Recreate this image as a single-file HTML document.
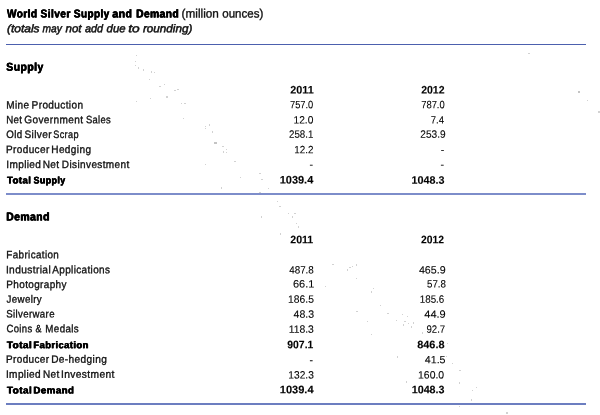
<!DOCTYPE html>
<html><head><meta charset="utf-8"><title>World Silver Supply and Demand</title>
<style>
html,body{margin:0;padding:0;background:#fff;}
body{width:600px;height:415px;position:relative;overflow:hidden;font-family:"Liberation Sans",sans-serif;color:#111;}
#pg{position:absolute;left:0;top:0;width:600px;height:415px;will-change:transform;opacity:0.999;}
.t{position:absolute;left:0;top:0;white-space:pre;line-height:20px;transform-origin:0 0;display:block;text-rendering:geometricPrecision;}
.tb{font-weight:bold;font-size:11.5px;-webkit-text-stroke:0.25px #000;text-shadow:0.35px 0 0 #000,-0.35px 0 0 #000;color:#000;letter-spacing:0.5px}
.tr{font-size:12px;-webkit-text-stroke:0.35px #111;color:#111}
.ti{font-style:italic;font-size:11.2px;-webkit-text-stroke:0.5px #111;color:#111}
.l{font-size:10.7px;-webkit-text-stroke:0.35px #111;color:#111;letter-spacing:0.4px;word-spacing:-1.5px}
.lb{font-weight:bold;font-size:9.8px;-webkit-text-stroke:0.15px #000;text-shadow:0.35px 0 0 #000,-0.35px 0 0 #000;color:#000;letter-spacing:0.45px;word-spacing:-1.2px}
.n{font-size:10.6px;-webkit-text-stroke:0.1px #000;color:#000}
.nb{font-weight:bold;font-size:10.9px;-webkit-text-stroke:0.12px #000;color:#000}
.rule{position:absolute;left:6.2px;width:579.7px;}
.sp{position:absolute;width:1.2px;height:1.2px;background:#d2d2d2;}
</style></head><body>
<div id="pg">
<div class="rule" style="top:43.7px;height:1.1px;background:#4c60ae"></div>
<div class="rule" style="top:193px;height:2px;background:#7d8dca"></div>
<div class="rule" style="top:403.1px;height:1.9px;background:#6c7ec0"></div>
<span class="t tb" style="transform:translate(6.99px,4.43px) scaleX(0.8753) rotate(0.05deg)">World</span>
<span class="t tb" style="transform:translate(40.54px,4.43px) scaleX(0.8809) rotate(0.05deg)">Silver</span>
<span class="t tb" style="transform:translate(73.88px,4.43px) scaleX(0.8640) rotate(0.05deg)">Supply</span>
<span class="t tb" style="transform:translate(112.37px,4.43px) scaleX(0.9115) rotate(0.05deg)">and</span>
<span class="t tb" style="transform:translate(136.17px,4.43px) scaleX(0.8877) rotate(0.05deg)">Demand</span>
<span class="t tr" style="transform:translate(181.61px,3.47px) scaleX(0.9807) rotate(0.05deg)">(million</span>
<span class="t tr" style="transform:translate(222.23px,3.47px) scaleX(0.9610) rotate(0.05deg)">ounces)</span>
<span class="t ti" style="transform:translate(6.90px,19.16px) scaleX(1.0737) rotate(0.05deg)">(totals</span>
<span class="t ti" style="transform:translate(42.51px,19.16px) scaleX(0.9108) rotate(0.05deg)">may</span>
<span class="t ti" style="transform:translate(65.51px,19.16px) scaleX(1.0307) rotate(0.05deg)">not</span>
<span class="t ti" style="transform:translate(84.93px,19.16px) scaleX(0.9637) rotate(0.05deg)">add</span>
<span class="t ti" style="transform:translate(106.61px,19.16px) scaleX(1.0137) rotate(0.05deg)">due</span>
<span class="t ti" style="transform:translate(128.17px,19.16px) scaleX(1.2296) rotate(0.05deg)">to</span>
<span class="t ti" style="transform:translate(142.89px,19.16px) scaleX(1.0452) rotate(0.05deg)">rounding)</span>
<span class="t tb" style="transform:translate(6.31px,57.73px) scaleX(0.9052) rotate(0.05deg)">Supply</span>
<span class="t tb" style="transform:translate(6.26px,207.43px) scaleX(0.9018) rotate(0.05deg)">Demand</span>
<span class="t l" style="transform:translate(6.24px,95.41px) scaleX(0.9329) rotate(0.05deg)">Mine</span>
<span class="t l" style="transform:translate(31.59px,95.41px) scaleX(0.9407) rotate(0.05deg)">Production</span>
<span class="t l" style="transform:translate(6.16px,110.31px) scaleX(0.9107) rotate(0.05deg)">Net</span>
<span class="t l" style="transform:translate(24.34px,110.31px) scaleX(0.9395) rotate(0.05deg)">Government</span>
<span class="t l" style="transform:translate(85.91px,110.31px) scaleX(0.8769) rotate(0.05deg)">Sales</span>
<span class="t l" style="transform:translate(6.23px,124.91px) scaleX(0.9123) rotate(0.05deg)">Old</span>
<span class="t l" style="transform:translate(24.43px,124.91px) scaleX(0.9446) rotate(0.05deg)">Silver</span>
<span class="t l" style="transform:translate(53.33px,124.91px) scaleX(0.8515) rotate(0.05deg)">Scrap</span>
<span class="t l" style="transform:translate(6.02px,139.91px) scaleX(0.9363) rotate(0.05deg)">Producer</span>
<span class="t l" style="transform:translate(51.27px,139.91px) scaleX(0.9414) rotate(0.05deg)">Hedging</span>
<span class="t l" style="transform:translate(6.26px,154.91px) scaleX(0.9408) rotate(0.05deg)">Implied</span>
<span class="t l" style="transform:translate(42.74px,154.91px) scaleX(0.9404) rotate(0.05deg)">Net</span>
<span class="t l" style="transform:translate(61.88px,154.91px) scaleX(0.9368) rotate(0.05deg)">Disinvestment</span>
<span class="t lb" style="transform:translate(7.00px,171.38px) scaleX(0.9763) rotate(0.05deg)">Total</span>
<span class="t lb" style="transform:translate(33.51px,171.38px) scaleX(0.9087) rotate(0.05deg)">Supply</span>
<span class="t l" style="transform:translate(6.34px,245.16px) scaleX(0.9224) rotate(0.05deg)">Fabrication</span>
<span class="t l" style="transform:translate(5.92px,260.16px) scaleX(0.9528) rotate(0.05deg)">Industrial</span>
<span class="t l" style="transform:translate(52.29px,260.16px) scaleX(0.9292) rotate(0.05deg)">Applications</span>
<span class="t l" style="transform:translate(6.35px,274.91px) scaleX(0.9302) rotate(0.05deg)">Photography</span>
<span class="t l" style="transform:translate(6.52px,289.66px) scaleX(0.9101) rotate(0.05deg)">Jewelry</span>
<span class="t l" style="transform:translate(6.30px,304.41px) scaleX(0.9018) rotate(0.05deg)">Silverware</span>
<span class="t l" style="transform:translate(6.54px,319.16px) scaleX(0.8860) rotate(0.05deg)">Coins</span>
<span class="t l" style="transform:translate(35.56px,319.16px) scaleX(0.8354) rotate(0.05deg)">&amp;</span>
<span class="t l" style="transform:translate(45.37px,319.16px) scaleX(0.9133) rotate(0.05deg)">Medals</span>
<span class="t lb" style="transform:translate(6.78px,336.23px) scaleX(1.0186) rotate(0.05deg)">Total</span>
<span class="t lb" style="transform:translate(33.46px,336.23px) scaleX(0.9574) rotate(0.05deg)">Fabrication</span>
<span class="t l" style="transform:translate(6.05px,349.81px) scaleX(0.9316) rotate(0.05deg)">Producer</span>
<span class="t l" style="transform:translate(51.18px,349.81px) scaleX(0.9457) rotate(0.05deg)">De-hedging</span>
<span class="t l" style="transform:translate(5.96px,364.81px) scaleX(0.9413) rotate(0.05deg)">Implied</span>
<span class="t l" style="transform:translate(42.92px,364.81px) scaleX(0.9322) rotate(0.05deg)">Net</span>
<span class="t l" style="transform:translate(61.03px,364.81px) scaleX(0.9544) rotate(0.05deg)">Investment</span>
<span class="t lb" style="transform:translate(6.95px,381.48px) scaleX(1.0133) rotate(0.05deg)">Total</span>
<span class="t lb" style="transform:translate(33.45px,381.48px) scaleX(0.9896) rotate(0.05deg)">Demand</span>
<span class="t nb" style="transform:translate(290.24px,80.38px) scaleX(0.9928) rotate(0.05deg)">2011</span>
<span class="t n" style="transform:translate(289.96px,95.25px) scaleX(0.8795) rotate(0.05deg)">757.0</span>
<span class="t n" style="transform:translate(293.46px,110.45px) scaleX(0.9636) rotate(0.05deg)">12.0</span>
<span class="t n" style="transform:translate(289.01px,124.85px) scaleX(0.9170) rotate(0.05deg)">258.1</span>
<span class="t n" style="transform:translate(294.38px,140.35px) scaleX(0.9328) rotate(0.05deg)">12.2</span>
<span class="t n" style="transform:translate(309.63px,155.05px) scaleX(1.0000) rotate(0.05deg)">-</span>
<span class="t nb" style="transform:translate(279.67px,170.38px) scaleX(1.0086) rotate(0.05deg)">1039.4</span>
<span class="t nb" style="transform:translate(290.29px,230.28px) scaleX(0.9722) rotate(0.05deg)">2011</span>
<span class="t n" style="transform:translate(289.25px,260.45px) scaleX(0.9256) rotate(0.05deg)">487.8</span>
<span class="t n" style="transform:translate(292.94px,274.55px) scaleX(1.0382) rotate(0.05deg)">66.1</span>
<span class="t n" style="transform:translate(288.12px,289.65px) scaleX(0.9708) rotate(0.05deg)">186.5</span>
<span class="t n" style="transform:translate(293.57px,304.85px) scaleX(0.9917) rotate(0.05deg)">48.3</span>
<span class="t n" style="transform:translate(288.72px,319.75px) scaleX(0.9767) rotate(0.05deg)">118.3</span>
<span class="t nb" style="transform:translate(287.33px,335.28px) scaleX(0.9528) rotate(0.05deg)">907.1</span>
<span class="t n" style="transform:translate(309.63px,350.45px) scaleX(1.0000) rotate(0.05deg)">-</span>
<span class="t n" style="transform:translate(288.36px,365.45px) scaleX(0.9608) rotate(0.05deg)">132.3</span>
<span class="t nb" style="transform:translate(279.77px,380.28px) scaleX(1.0158) rotate(0.05deg)">1039.4</span>
<span class="t nb" style="transform:translate(421.15px,80.38px) scaleX(0.9645) rotate(0.05deg)">2012</span>
<span class="t n" style="transform:translate(421.22px,95.25px) scaleX(0.8858) rotate(0.05deg)">787.0</span>
<span class="t n" style="transform:translate(430.79px,110.45px) scaleX(0.8991) rotate(0.05deg)">7.4</span>
<span class="t n" style="transform:translate(420.33px,124.85px) scaleX(0.9563) rotate(0.05deg)">253.9</span>
<span class="t n" style="transform:translate(440.65px,140.25px) scaleX(1.0000) rotate(0.05deg)">-</span>
<span class="t n" style="transform:translate(440.63px,155.05px) scaleX(1.0000) rotate(0.05deg)">-</span>
<span class="t nb" style="transform:translate(411.63px,170.68px) scaleX(0.9907) rotate(0.05deg)">1048.3</span>
<span class="t nb" style="transform:translate(421.10px,230.28px) scaleX(0.9512) rotate(0.05deg)">2012</span>
<span class="t n" style="transform:translate(418.91px,260.45px) scaleX(1.0074) rotate(0.05deg)">465.9</span>
<span class="t n" style="transform:translate(427.02px,274.55px) scaleX(0.9161) rotate(0.05deg)">57.8</span>
<span class="t n" style="transform:translate(419.84px,289.65px) scaleX(0.9217) rotate(0.05deg)">185.6</span>
<span class="t n" style="transform:translate(424.31px,304.85px) scaleX(1.0389) rotate(0.05deg)">44.9</span>
<span class="t n" style="transform:translate(426.49px,319.75px) scaleX(0.9088) rotate(0.05deg)">92.7</span>
<span class="t nb" style="transform:translate(417.16px,335.28px) scaleX(1.0052) rotate(0.05deg)">846.8</span>
<span class="t n" style="transform:translate(424.81px,350.25px) scaleX(1.0054) rotate(0.05deg)">41.5</span>
<span class="t n" style="transform:translate(418.06px,365.45px) scaleX(0.9840) rotate(0.05deg)">160.0</span>
<span class="t nb" style="transform:translate(411.71px,380.28px) scaleX(0.9853) rotate(0.05deg)">1048.3</span>
<div class="sp" style="left:135.7px;top:54.9px"></div>
<div class="sp" style="left:134.9px;top:60.6px"></div>
<div class="sp" style="left:134.9px;top:64.9px"></div>
<div class="sp" style="left:138.2px;top:67.4px"></div>
<div class="sp" style="left:143.2px;top:69.4px"></div>
<div class="sp" style="left:150.7px;top:71.4px"></div>
<div class="sp" style="left:153.7px;top:71.9px"></div>
<div class="sp" style="left:148.9px;top:78.9px"></div>
<div class="sp" style="left:159.4px;top:86.2px"></div>
<div class="sp" style="left:163.9px;top:83.7px"></div>
<div class="sp" style="left:174.4px;top:90.2px"></div>
<div class="sp" style="left:177.4px;top:88.7px"></div>
<div class="sp" style="left:166.4px;top:96.4px"></div>
<div class="sp" style="left:149.9px;top:98.2px"></div>
<div class="sp" style="left:135.9px;top:100.7px"></div>
<div class="sp" style="left:180.7px;top:102.7px"></div>
<div class="sp" style="left:184.4px;top:102.7px"></div>
<div class="sp" style="left:183.2px;top:118.2px"></div>
<div class="sp" style="left:204.9px;top:125.7px"></div>
<div class="sp" style="left:204.9px;top:127.9px"></div>
<div class="sp" style="left:208.9px;top:124.4px"></div>
<div class="sp" style="left:211.9px;top:131.4px"></div>
<div class="sp" style="left:222.4px;top:145.7px"></div>
<div class="sp" style="left:225.7px;top:148.7px"></div>
<div class="sp" style="left:223.2px;top:151.4px"></div>
<div class="sp" style="left:225.7px;top:151.9px"></div>
<div class="sp" style="left:234.4px;top:160.7px"></div>
<div class="sp" style="left:204.9px;top:163.9px"></div>
<div class="sp" style="left:259.4px;top:173.2px"></div>
<div class="sp" style="left:261.4px;top:178.9px"></div>
<div class="sp" style="left:240.2px;top:176.9px"></div>
<div class="sp" style="left:220.7px;top:187.4px"></div>
<div class="sp" style="left:268.1px;top:188.2px"></div>
<div class="sp" style="left:259.4px;top:191.9px"></div>
<div class="sp" style="left:276.9px;top:200.7px"></div>
<div class="sp" style="left:279.4px;top:205.7px"></div>
<div class="sp" style="left:288.1px;top:212.7px"></div>
<div class="sp" style="left:294.4px;top:212.7px"></div>
<div class="sp" style="left:291.9px;top:216.4px"></div>
<div class="sp" style="left:261.1px;top:216.4px"></div>
<div class="sp" style="left:295.6px;top:223.2px"></div>
<div class="sp" style="left:298.1px;top:226.4px"></div>
<div class="sp" style="left:279.9px;top:233.4px"></div>
<div class="sp" style="left:349.4px;top:266.9px"></div>
<div class="sp" style="left:346.9px;top:269.4px"></div>
<div class="sp" style="left:351.9px;top:265.6px"></div>
<div class="sp" style="left:355.6px;top:264.4px"></div>
<div class="sp" style="left:332.4px;top:263.9px"></div>
<div class="sp" style="left:355.6px;top:277.6px"></div>
<div class="sp" style="left:324.9px;top:286.1px"></div>
<div class="sp" style="left:373.1px;top:287.6px"></div>
<div class="sp" style="left:370.6px;top:291.4px"></div>
<div class="sp" style="left:380.1px;top:304.9px"></div>
<div class="sp" style="left:356.4px;top:310.6px"></div>
<div class="sp" style="left:387.4px;top:313.1px"></div>
<div class="sp" style="left:401.9px;top:313.9px"></div>
<div class="sp" style="left:406.9px;top:315.6px"></div>
<div class="sp" style="left:395.6px;top:319.9px"></div>
<div class="sp" style="left:404.4px;top:320.6px"></div>
<div class="sp" style="left:408.1px;top:323.1px"></div>
<div class="sp" style="left:413.1px;top:322.4px"></div>
<div class="sp" style="left:403.1px;top:324.4px"></div>
<div class="sp" style="left:410.6px;top:326.4px"></div>
<div class="sp" style="left:366.9px;top:320.6px"></div>
<div class="sp" style="left:421.9px;top:332.4px"></div>
<div class="sp" style="left:371.1px;top:333.9px"></div>
<div class="sp" style="left:446.9px;top:343.1px"></div>
<div class="sp" style="left:396.9px;top:356.4px"></div>
<div class="sp" style="left:445.6px;top:355.6px"></div>
<div class="sp" style="left:451.9px;top:363.1px"></div>
<div class="sp" style="left:459.4px;top:369.9px"></div>
<div class="sp" style="left:405.6px;top:381.4px"></div>
<div class="sp" style="left:458.9px;top:382.4px"></div>
<div class="sp" style="left:475.6px;top:386.9px"></div>
<div class="sp" style="left:471.9px;top:389.9px"></div>
<div class="sp" style="left:470.6px;top:399.4px"></div>
<div class="sp" style="left:458.9px;top:405.6px"></div>
<div class="sp" style="left:506.4px;top:412.4px"></div>
<div class="sp" style="left:528.4px;top:52.9px"></div>
<div class="sp" style="left:586.8px;top:99.5px"></div>
<div class="sp" style="left:598.4px;top:111.4px"></div>
<div class="sp" style="left:214.4px;top:142.0px;width:2.2px;height:2.2px;background:#c4c4c4"></div>
<div class="sp" style="left:577.8px;top:91.1px;width:2.2px;height:2.2px;background:#c4c4c4"></div>
</div>
</body></html>
